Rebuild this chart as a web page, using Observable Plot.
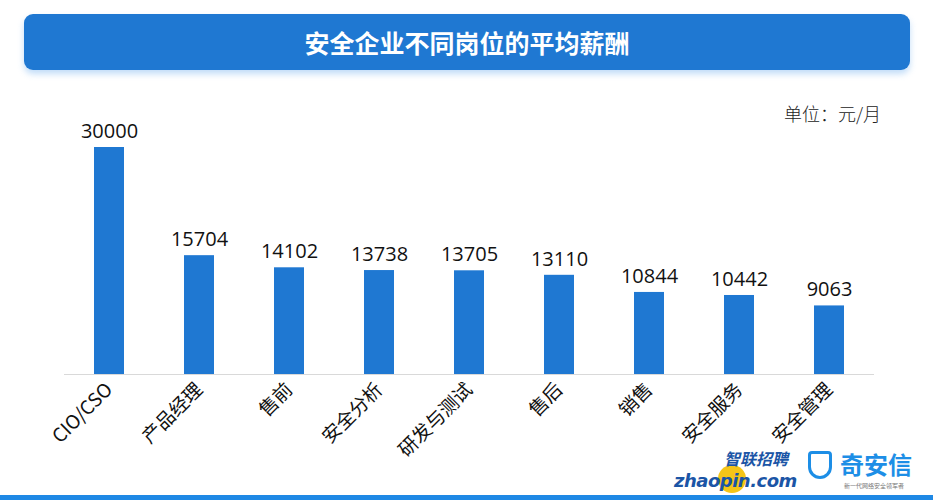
<!DOCTYPE html>
<html>
<head>
<meta charset="utf-8">
<script src="https://cdn.jsdelivr.net/npm/d3@7"></script>
<script src="https://cdn.jsdelivr.net/npm/@observablehq/plot@0.6"></script>
<style>
  html, body { margin: 0; padding: 0; background: #fff; }
  #wrap { position: relative; width: 933px; height: 500px; overflow: hidden; font-family: "Noto Sans CJK SC", "Noto Sans", sans-serif; }
  #banner { position: absolute; left: 24px; top: 14px; width: 886px; height: 56px; background: #1f78d2; border-radius: 9px;
    box-shadow: 0 4px 6px rgba(120,180,240,0.45); color: #fff; font-weight: bold; font-size: 25px; text-align: center; line-height: 56px; }
  #unit { position: absolute; left: 784px; top: 100px; font-size: 18px; color: #222; font-weight: 300; line-height: 26px; }
  #bottombar { position: absolute; left: 0; top: 495px; width: 933px; height: 5px; background: #1e88e5; }
  #logo1 { position: absolute; left: 674px; top: 449px; width: 122px; height: 44px; }
  #logo1 .cn { position: absolute; left: 50px; top: 0; font-size: 16px; font-weight: bold; font-style: italic; color: #1b55a6; white-space: nowrap; line-height: 18px; height: 18px; }
  #logo1 .en { position: absolute; left: 0; top: 22px; font-size: 18px; font-weight: bold; font-style: italic; color: #1b55a6; white-space: nowrap; font-family: "DejaVu Sans", sans-serif; line-height: 20px; height: 20px; letter-spacing: -0.5px; }
  #logo1 .dot { position: absolute; left: 44px; top: 16px; width: 28px; height: 28px; border-radius: 50%; background: #f5c518; }
  #logo2 { position: absolute; left: 808px; top: 450px; width: 104px; height: 40px; }
  #logo2 .shield { position: absolute; left: 0; top: 1px; width: 24px; height: 28px; border: 3px solid #1d8ee6; border-radius: 4px 4px 12px 12px; box-sizing: border-box; }
  #logo2 .cn { position: absolute; left: 32px; top: 0; font-size: 24px; font-weight: bold; color: #1d8ee6; white-space: nowrap; line-height: 28px; height: 28px; }
  #logo2 .sub { position: absolute; left: 36px; top: 32px; font-size: 6px; color: #777; white-space: nowrap; line-height: 7px; height: 7px; }
  svg { position: absolute; left: 0; top: 0; }
</style>
</head>
<body>
<div id="wrap">
  <div id="chart"></div>
  <div id="banner">安全企业不同岗位的平均薪酬</div>
  <div id="unit">单位：元/月</div>
  <div id="logo1"><div class="dot"></div><div class="cn">智联招聘</div><div class="en">zhaopin.com</div></div>
  <div id="logo2"><div class="shield"></div><div class="cn">奇安信</div><div class="sub">新一代网络安全领军者</div></div>
  <div id="bottombar"></div>
</div>
<script>
const categories = ["CIO/CSO", "产品经理", "售前", "安全分析", "研发与测试", "售后", "销售", "安全服务", "安全管理"];
const salaries = [30000, 15704, 14102, 13738, 13705, 13110, 10844, 10442, 9063];

const data = categories.map((c, i) => ({category: c, value: salaries[i]}));

const chart = Plot.plot({
  width: 933,
  height: 500,
  marginTop: 147,
  marginBottom: 126,
  marginLeft: 64,
  marginRight: 59,
  style: {background: "transparent", fontFamily: "'Noto Sans CJK SC', sans-serif"},
  x: {domain: categories, paddingInner: 0.667, paddingOuter: 0.333, label: null},
  y: {domain: [0, 30000], axis: null},
  marks: [
    Plot.barY(data, {x: "category", y: "value", fill: "#1f78d2"}),
    Plot.ruleY([0], {stroke: "#d9d9d9", strokeWidth: 1}),
    Plot.text(data, {x: "category", y: "value", text: d => String(d.value), dy: -16, fontSize: 20, fill: "#111", fontFamily: "'Open Sans', 'Noto Sans', sans-serif"}),
    Plot.axisX({domain: categories, tickSize: 0, tickRotate: -45, tickPadding: 12, fontSize: 19, fill: "#111", label: null})
  ]
});
document.getElementById("chart").appendChild(chart);
</script>
</body>
</html>
